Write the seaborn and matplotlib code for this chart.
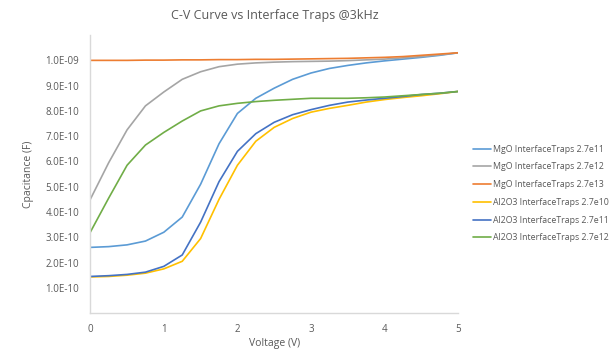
import pandas as pd
import matplotlib
matplotlib.use("Agg")
import matplotlib.pyplot as plt
import seaborn as sns

# Voltage grid (V)
voltage = [0, 0.25, 0.5, 0.75, 1, 1.25, 1.5, 1.75, 2, 2.25, 2.5, 2.75, 3, 3.25, 3.5, 3.75, 4, 4.25, 4.5, 4.75, 5]

# Capacitance in units of 1e-10 F
mgo_11 = [2.6, 2.63, 2.7, 2.85, 3.2, 3.8, 5.1, 6.7, 7.9, 8.5, 8.9, 9.25, 9.5, 9.68, 9.8, 9.9, 9.98, 10.05, 10.12, 10.2, 10.3]
mgo_12 = [4.5, 5.95, 7.25, 8.2, 8.75, 9.25, 9.55, 9.75, 9.85, 9.9, 9.93, 9.95, 9.96, 9.97, 9.99, 10.02, 10.05, 10.1, 10.15, 10.22, 10.3]
mgo_13 = [10.0, 10.0, 10.0, 10.01, 10.01, 10.02, 10.02, 10.03, 10.03, 10.04, 10.04, 10.05, 10.06, 10.07, 10.08, 10.1, 10.12, 10.15, 10.2, 10.25, 10.3]
al_10 = [1.43, 1.45, 1.5, 1.58, 1.75, 2.05, 2.95, 4.5, 5.85, 6.8, 7.35, 7.7, 7.95, 8.1, 8.22, 8.35, 8.45, 8.53, 8.6, 8.68, 8.77]
al_11 = [1.45, 1.48, 1.53, 1.62, 1.85, 2.3, 3.6, 5.2, 6.4, 7.1, 7.55, 7.85, 8.05, 8.22, 8.35, 8.43, 8.5, 8.57, 8.65, 8.7, 8.77]
al_12 = [3.2, 4.55, 5.85, 6.65, 7.15, 7.6, 8.0, 8.2, 8.3, 8.37, 8.42, 8.46, 8.5, 8.5, 8.5, 8.52, 8.55, 8.6, 8.65, 8.7, 8.77]

series = {
    "MgO InterfaceTraps 2.7e11": (mgo_11, "#5B9BD5"),
    "MgO InterfaceTraps 2.7e12": (mgo_12, "#A5A5A5"),
    "MgO InterfaceTraps 2.7e13": (mgo_13, "#ED7D31"),
    "Al2O3 InterfaceTraps 2.7e10": (al_10, "#FFC000"),
    "Al2O3 InterfaceTraps 2.7e11": (al_11, "#4472C4"),
    "Al2O3 InterfaceTraps 2.7e12": (al_12, "#70AD47"),
}

sns.set_style("white")
plt.rcParams["font.family"] = ["Open Sans", "DejaVu Sans"]
grey = "#595959"

fig = plt.figure(figsize=(6.1, 3.51), dpi=100)
ax = fig.add_axes([0.148, 0.108, 0.603, 0.792])

for name, (vals, col) in series.items():
    df = pd.DataFrame({"V": voltage, "C": [v * 1e-10 for v in vals]})
    sns.lineplot(data=df, x="V", y="C", color=col, label=name, linewidth=1.2, ax=ax)

ax.set_xlim(0, 5)
ax.set_ylim(0, 1.1e-9)
ax.set_xticks([0, 1, 2, 3, 4, 5])
yt = [i * 1e-10 for i in range(1, 11)]
ax.set_yticks(yt)
ax.set_yticklabels([f"{i}.0E-10" if i < 10 else "1.0E-09" for i in range(1, 11)])
ax.tick_params(axis="both", length=0, labelsize=7, colors=grey, pad=8)
for s in ["top", "right"]:
    ax.spines[s].set_visible(False)
for s in ["left", "bottom"]:
    ax.spines[s].set_color("#D9D9D9")
    ax.spines[s].set_linewidth(1)

ax.set_xlabel("Voltage (V)", fontsize=7.5, color=grey, labelpad=2)
ax.set_ylabel("Cpacitance (F)", fontsize=7.5, color=grey, labelpad=8)

leg = ax.legend(loc="center left", bbox_to_anchor=(1.02, 0.43), frameon=False,
                fontsize=6.3, handlelength=2.0, handletextpad=0.3, labelspacing=1.0)
for t in leg.get_texts():
    t.set_color(grey)

fig.text(0.45, 0.955, "C-V Curve vs Interface Traps @3kHz", ha="center", va="center",
         fontsize=9, color=grey)

fig.savefig("out.png", dpi=100)
